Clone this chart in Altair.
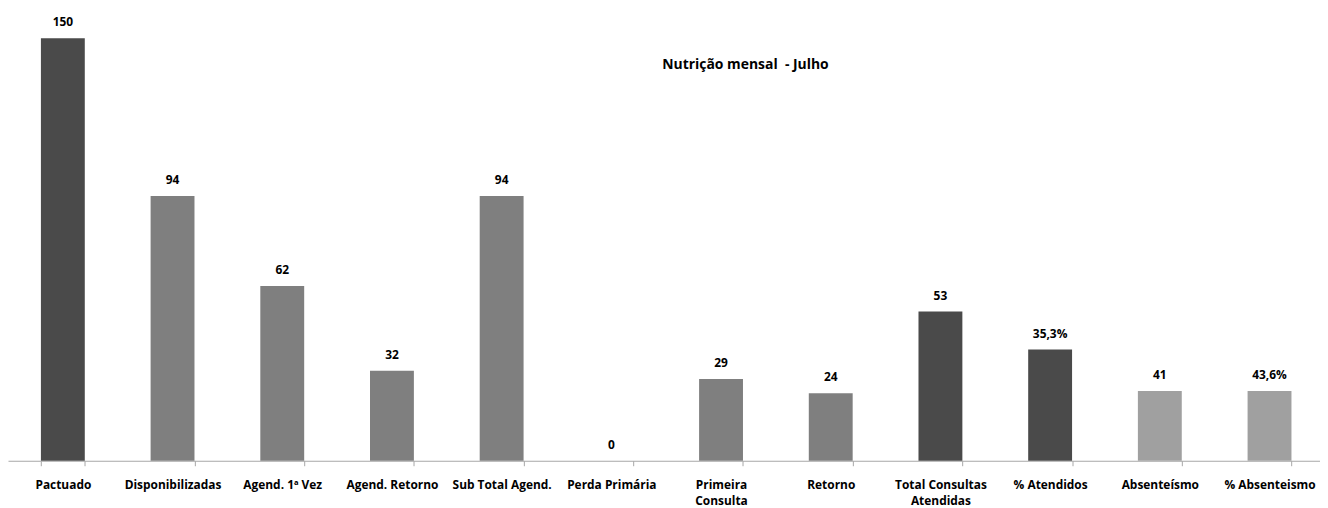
import altair as alt
import pandas as pd

categories = ["Pactuado", "Disponibilizadas", "Agend. 1ª Vez", "Agend. Retorno",
              "Sub Total Agend.", "Perda Primária", "Primeira Consulta", "Retorno",
              "Total Consultas Atendidas", "% Atendidos", "Absenteísmo", "% Absenteismo"]
bar_heights = [150, 94, 62, 32, 94, 0, 29, 24, 53, 39.5, 24.8, 24.8]
value_labels = ["150", "94", "62", "32", "94", "0", "29", "24", "53", "35,3%", "41", "43,6%"]
shade = ["dark", "mid", "mid", "mid", "mid", "mid", "mid", "mid", "dark", "dark", "light", "light"]
title_text = "Nutrição mensal\u00a0 - Julho"

df = pd.DataFrame({"cat": categories, "h": bar_heights, "lab": value_labels, "shade": shade})

FONT = "Open Sans"

x = alt.X("cat:N", sort=categories, title=None,
          scale=alt.Scale(paddingInner=0.6, paddingOuter=0.3, range=[0, 1324.4]),
          axis=alt.Axis(labelAngle=0, labelFont=FONT, labelFontWeight="bold", labelFontSize=12,
                        labelColor="#000000", domainColor="#a6a6a6", tickColor="#a6a6a6",
                        tickSize=5, tickBand="extent", labelPadding=14, labelLineHeight=16,
                        labelLimit=0,
                        labelExpr="datum.value == 'Primeira Consulta' ? ['Primeira', 'Consulta'] : "
                                  "datum.value == 'Total Consultas Atendidas' ? ['Total Consultas', 'Atendidas'] : datum.value"))
y = alt.Y("h:Q", axis=None, scale=alt.Scale(domain=[0, 160.2], nice=False, zero=True))

bars = alt.Chart(df).mark_bar().encode(
    x=x, y=y,
    color=alt.Color("shade:N", legend=None,
                    scale=alt.Scale(domain=["dark", "mid", "light"],
                                    range=["#4a4a4a", "#7f7f7f", "#a0a0a0"])),
)

labels = alt.Chart(df).mark_text(font=FONT, fontWeight="bold", fontSize=12, color="#000000",
                                 baseline="middle", dy=-16).encode(x=x, y=y, text="lab:N")

title = alt.Chart(pd.DataFrame({"t": [title_text]})).mark_text(
    font=FONT, fontWeight="bold", fontSize=14, color="#000000", align="center", baseline="middle"
).encode(x=alt.value(742), y=alt.value(56), text="t:N")

chart = alt.layer(bars, labels, title).properties(
    width=1320, height=454,
    autosize=alt.AutoSizeParams(type="none"),
    padding={"left": 0, "top": 0, "right": 0, "bottom": 46},
).configure_view(stroke=None)

chart.save("out.html", embed_options={"renderer": "svg", "actions": False})
